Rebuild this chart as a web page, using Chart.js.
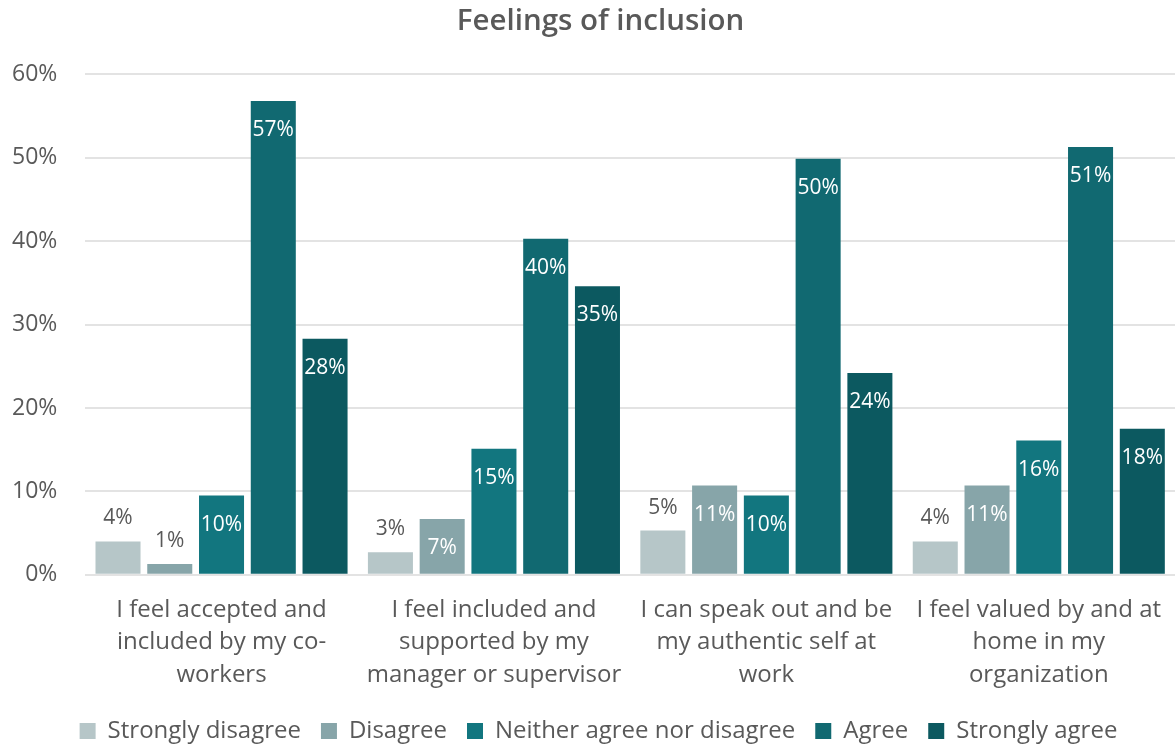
<!DOCTYPE html>
<html>
<head>
<meta charset="utf-8">
<script src="https://cdn.jsdelivr.net/npm/chart.js@4"></script>
<style>
  body { margin: 0; background: #fff; }
  #wrap { width: 1175px; height: 746px; }
</style>
</head>
<body>
<div id="wrap"><canvas id="chart"></canvas></div>
<script>
// Categories (split into lines like the original)
const categories = [
  ["I feel accepted and", "included by my co-", "workers"],
  ["I feel included and", "supported by my", "manager or supervisor"],
  ["I can speak out and be", "my authentic self at", "work"],
  ["I feel valued by and at", "home in my", "organization"],
];

// Values for each answer, in %
const stronglyDisagree = [4.0, 2.7, 5.3, 4.0];
const disagree = [1.3, 6.7, 10.7, 10.7];
const neither = [9.5, 15.1, 9.5, 16.1];
const agree = [56.8, 40.3, 49.9, 51.3];
const stronglyAgree = [28.3, 34.6, 24.2, 17.5];

const seriesNames = ["Strongly disagree", "Disagree", "Neither agree nor disagree", "Agree", "Strongly agree"];
const seriesColors = ["#b6c6c8", "#87a5a9", "#12767f", "#116971", "#0c5960"];

const textColor = "#595959";
const fontFamily = "'Open Sans', 'Noto Sans', sans-serif";

// Draw the % labels: light bars get them above, others inside the top
const barLabels = {
  id: "barLabels",
  afterDatasetsDraw(chart) {
    const ctx = chart.ctx;
    ctx.save();
    ctx.font = "21px " + fontFamily;
    ctx.textAlign = "center";
    ctx.textBaseline = "middle";
    chart.data.datasets.forEach((ds, di) => {
      const meta = chart.getDatasetMeta(di);
      meta.data.forEach((bar, i) => {
        const txt = Math.round(ds.data[i]) + "%";
        const h = bar.base - bar.y;
        if (di === 0 || h < 30) {
          ctx.fillStyle = textColor;
          ctx.fillText(txt, bar.x, bar.y - 23);
        } else {
          ctx.fillStyle = "#ffffff";
          ctx.fillText(txt, bar.x, bar.y + 29);
        }
      });
    });
    ctx.restore();
  },
};

// the original has title and legend a bit right of the canvas centre
const nudgeBoxes = {
  id: "nudgeBoxes",
  afterLayout(chart) {
    chart.titleBlock.left += 21;
    chart.titleBlock.right += 21;
    chart.legend.left += 19;
    chart.legend.right += 19;
  },
};

const allSeries = [stronglyDisagree, disagree, neither, agree, stronglyAgree];

new Chart(document.getElementById("chart"), {
  type: "bar",
  plugins: [barLabels, nudgeBoxes],
  data: {
    labels: categories,
    datasets: allSeries.map((d, i) => ({
      label: seriesNames[i],
      data: d,
      backgroundColor: seriesColors[i],
      borderWidth: 0,
      categoryPercentage: 0.95,
      barPercentage: 0.87,
    })),
  },
  options: {
    responsive: true,
    maintainAspectRatio: false,
    animation: false,
    layout: { padding: { left: -16, right: 0, top: 4, bottom: -7 } },
    plugins: {
      tooltip: { enabled: false },
      title: {
        display: true,
        text: "Feelings of inclusion",
        color: textColor,
        font: { family: fontFamily, size: 29.5, weight: "600" },
        padding: { top: 0, bottom: 35 },
      },
      legend: {
        position: "bottom",
        labels: {
          color: textColor,
          font: { family: fontFamily, size: 24 },
          boxWidth: 16,
          boxHeight: 16,
          padding: 20,
        },
      },
    },
    scales: {
      x: {
        grid: { display: false },
        border: { display: false },
        ticks: {
          color: textColor,
          font: { family: fontFamily, size: 24, lineHeight: 1.35 },
          maxRotation: 0,
          padding: 11,
        },
        afterFit: (scale) => { scale.height -= 3; },
      },
      y: {
        min: 0,
        max: 60,
        border: { display: false },
        grid: { color: "#e3e3e3", lineWidth: 2, drawTicks: false },
        ticks: {
          stepSize: 10,
          color: textColor,
          font: { family: fontFamily, size: 23 },
          padding: 28,
          callback: (v) => v + "%",
        },
      },
    },
  },
});
</script>
</body>
</html>
